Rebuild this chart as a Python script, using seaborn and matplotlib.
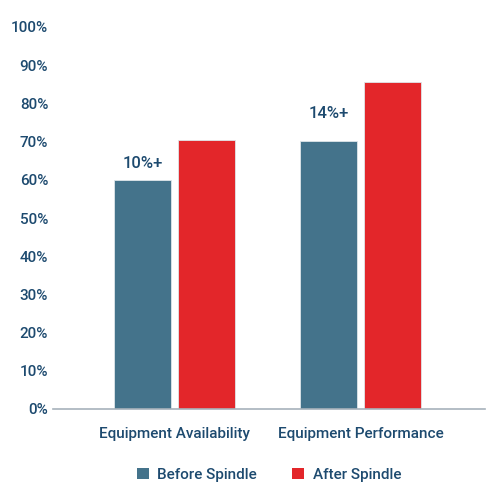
import matplotlib
matplotlib.use("Agg")
import matplotlib.pyplot as plt
import seaborn as sns
import pandas as pd
from matplotlib.patches import Patch

categories = ["Equipment Availability", "Equipment Performance"]
series_names = ["Before Spindle", "After Spindle"]
before_values = [60.0, 70.2]
after_values = [70.4, 85.6]
annotations = ["10%+", "14%+"]
y_ticks = [0, 10, 20, 30, 40, 50, 60, 70, 80, 90, 100]

df = pd.DataFrame({
    "category": categories * 2,
    "series": [series_names[0]] * 2 + [series_names[1]] * 2,
    "value": before_values + after_values,
})

sns.set_theme(style="white")
plt.rcParams["font.family"] = ["Roboto", "DejaVu Sans"]
TEXT = "#1d4a6f"
BLUE = "#44738b"
RED = "#e3262a"
FS = 11

fig = plt.figure(figsize=(5, 5), dpi=100)
ax = fig.add_axes([0.106, 0.182, 0.864, 0.764])
sns.barplot(data=df, x="category", y="value", hue="series",
            palette=[BLUE, RED], saturation=1, width=0.688, gap=0.11,
            edgecolor="#dfe6ea", linewidth=0.6, ax=ax, legend=False)

ax.set_ylim(0, 100)
ax.set_xlim(-0.653, 1.669)
ax.set_yticks(y_ticks)
ax.set_yticklabels([f"{t}%" for t in y_ticks])
ax.set_xlabel("")
ax.set_ylabel("")
for s in ["top", "right", "left"]:
    ax.spines[s].set_visible(False)
ax.spines["bottom"].set_color("#a7b2bb")
ax.spines["bottom"].set_linewidth(1.2)
ax.tick_params(axis="y", length=0, pad=3.5, labelsize=FS, labelcolor=TEXT)
ax.tick_params(axis="x", length=0, pad=13, labelsize=FS, labelcolor=TEXT)
for lab in ax.get_xticklabels() + ax.get_yticklabels():
    lab.set_fontweight("medium")

offsets = [6.5, 14.5]
for bar, txt, off in zip(ax.containers[0], annotations, offsets):
    ax.annotate(txt, (bar.get_x() + bar.get_width() / 2, bar.get_height()),
                xytext=(0, off), textcoords="offset points", ha="center", va="bottom",
                fontsize=12, color=TEXT, fontweight="medium")

handles = [Patch(facecolor=BLUE, edgecolor="none"), Patch(facecolor=RED, edgecolor="none")]
leg = ax.legend(handles, series_names, loc="center", bbox_to_anchor=(0.5, -0.172),
                ncol=2, frameon=False, handlelength=0.8, handleheight=0.8,
                handletextpad=0.55, columnspacing=2.3, fontsize=FS)
for t in leg.get_texts():
    t.set_color(TEXT)
    t.set_fontweight("medium")

fig.savefig("out.png", dpi=100, facecolor="white")
